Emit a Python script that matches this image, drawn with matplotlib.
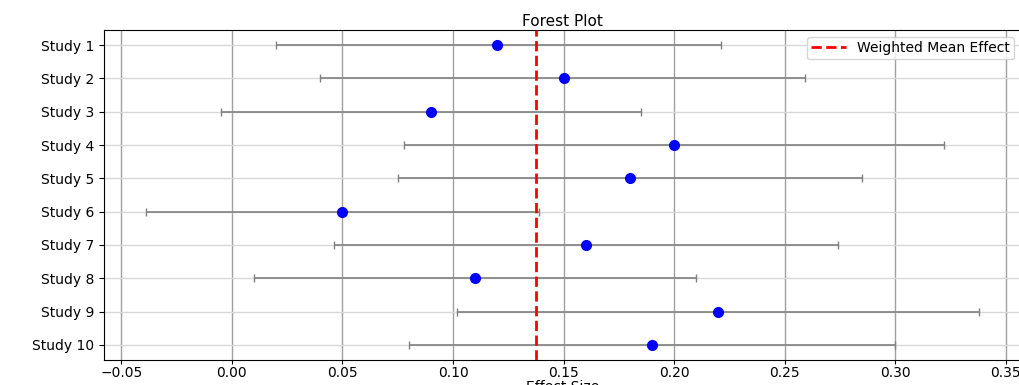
import matplotlib
matplotlib.use("Agg")
import matplotlib.pyplot as plt

studies = ["Study 1", "Study 2", "Study 3", "Study 4", "Study 5",
           "Study 6", "Study 7", "Study 8", "Study 9", "Study 10"]
effects = [0.12, 0.15, 0.09, 0.20, 0.18, 0.05, 0.16, 0.11, 0.22, 0.19]
ci_low = [0.020, 0.040, -0.005, 0.078, 0.075, -0.039, 0.046, 0.010, 0.102, 0.080]
ci_high = [0.221, 0.259, 0.185, 0.322, 0.285, 0.139, 0.274, 0.210, 0.338, 0.300]
weighted_mean = 0.1375

fig = plt.figure(figsize=(10.19, 3.85), dpi=100)
ax = fig.add_axes([0.102, 0.065, 0.900, 0.857])

y = list(range(len(studies)))
err = [[e - lo for e, lo in zip(effects, ci_low)],
       [hi - e for e, hi in zip(effects, ci_high)]]
ax.errorbar(effects, y, xerr=err, fmt="o", color="blue", ecolor="gray",
            elinewidth=1.2, capsize=3, markersize=7, zorder=3)
ax.axvline(weighted_mean, color="red", linestyle="--", lw=2,
           label="Weighted Mean Effect", zorder=4)

ax.set_yticks(y)
ax.set_yticklabels(studies, fontsize=10)
ax.invert_yaxis()
ax.tick_params(axis="x", labelsize=10, length=3, pad=1.5)
ax.set_xlabel("Effect Size", fontsize=10, labelpad=0)
ax.set_title("Forest Plot", fontsize=11, pad=3)
ax.grid(True, axis="x", color="#a0a0a0", lw=1)
ax.grid(True, axis="y", color="#d8d8d8", lw=1)
ax.set_axisbelow(True)
ax.legend(loc="upper right", fontsize=10, borderpad=0.3, handlelength=2.5)

fig.savefig("out.png", dpi=100)
